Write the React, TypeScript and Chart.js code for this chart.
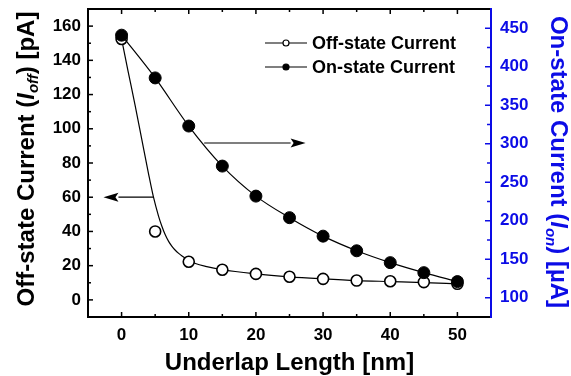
import React, { useEffect, useRef } from "react";
import { Chart, registerables } from "chart.js";

Chart.register(...registerables);

// ---- data ----
const underlap = [0, 5, 10, 15, 20, 25, 30, 35, 40, 45, 50];
const offCurrent = [152.5, 40, 22.3, 17.6, 15.2, 13.5, 12.3, 11.3, 10.9, 10.4, 9.4];
const onCurrent = [441, 385.5, 323, 271, 232, 204, 180, 161, 145.6, 132.6, 121];

// fitted curve through the off-state data
const offFitX = [0, 1, 2, 3, 4, 4.75, 5.5, 6, 6.5, 7, 7.5, 8, 8.5, 9, 10, 11, 12.5, 15, 20, 25, 30, 35, 40, 45, 50];
const offFitY = [152.5, 133, 114, 94, 74, 60, 49, 43, 38, 34.2, 31.3, 29, 27.2, 25.7, 23.2, 21.3, 19.6, 17.6, 15.2, 13.5, 12.3, 11.3, 10.7, 10.1, 9.4];

const xTickValues = [0, 10, 20, 30, 40, 50];
const yLeftTickValues = [0, 20, 40, 60, 80, 100, 120, 140, 160];
const yRightTickValues = [100, 150, 200, 250, 300, 350, 400, 450];

// annotation arrows (data coordinates)
const offArrowX = [4.75, -2.7];
const offArrowY = [60, 60];
const onArrowX = [12.3, 27.4];
const onArrowY = [301, 301];

const BLUE = "#0c0ce6";
const FONT = "'Liberation Sans', Arial, sans-serif";

const zeroPad = (s: any) => {
  s.paddingTop = 0;
  s.paddingBottom = 0;
  s.paddingLeft = 0;
  s.paddingRight = 0;
};

const decorPlugin = {
  id: "decor",
  afterDatasetsDraw(chart: any) {
    const ctx = chart.ctx;
    const { left, right, top, bottom } = chart.chartArea;
    const sx = chart.scales.x;
    const sy = chart.scales.y;
    const sy2 = chart.scales.y2;
    ctx.save();

    // arrows
    const drawArrow = (x1: number, y1: number, x2: number, y2: number) => {
      ctx.strokeStyle = "#000";
      ctx.fillStyle = "#000";
      ctx.lineWidth = 1.2;
      const dir = Math.sign(x2 - x1);
      const headLen = 15;
      ctx.beginPath();
      ctx.moveTo(x1, y1);
      ctx.lineTo(x2 - dir * headLen, y2);
      ctx.stroke();
      ctx.beginPath();
      ctx.moveTo(x2, y2);
      ctx.lineTo(x2 - dir * headLen, y2 - 4.5);
      ctx.lineTo(x2 - dir * (headLen - 3), y2);
      ctx.lineTo(x2 - dir * headLen, y2 + 4.5);
      ctx.closePath();
      ctx.fill();
    };
    drawArrow(
      sx.getPixelForValue(offArrowX[0]), sy.getPixelForValue(offArrowY[0]),
      sx.getPixelForValue(offArrowX[1]), sy.getPixelForValue(offArrowY[1])
    );
    drawArrow(
      sx.getPixelForValue(onArrowX[0]), sy2.getPixelForValue(onArrowY[0]),
      sx.getPixelForValue(onArrowX[1]), sy2.getPixelForValue(onArrowY[1])
    );

    // legend
    const legendItems = [
      { label: "Off-state Current", filled: false, y: 43 },
      { label: "On-state Current", filled: true, y: 67 },
    ];
    ctx.font = `bold 18px ${FONT}`;
    ctx.textBaseline = "middle";
    ctx.textAlign = "left";
    legendItems.forEach((it) => {
      ctx.strokeStyle = "#000";
      ctx.lineWidth = 1.2;
      ctx.beginPath();
      ctx.moveTo(265, it.y);
      ctx.lineTo(307, it.y);
      ctx.stroke();
      ctx.beginPath();
      ctx.arc(286, it.y, 3, 0, Math.PI * 2);
      ctx.fillStyle = it.filled ? "#000" : "#fff";
      ctx.fill();
      ctx.lineWidth = 1.2;
      ctx.stroke();
      ctx.fillStyle = "#000";
      ctx.fillText(it.label, 312, it.y + 1);
    });

    // frame
    ctx.lineWidth = 2;
    ctx.strokeStyle = "#000";
    ctx.beginPath();
    ctx.moveTo(right, top);
    ctx.lineTo(left, top);
    ctx.lineTo(left, bottom);
    ctx.lineTo(right, bottom);
    ctx.stroke();
    ctx.strokeStyle = BLUE;
    ctx.beginPath();
    ctx.moveTo(right, top - 1);
    ctx.lineTo(right, bottom + 1);
    ctx.stroke();

    // ticks
    ctx.lineWidth = 1.5;
    ctx.strokeStyle = "#000";
    for (let v = 0; v <= 50; v += 5) {
      const px = sx.getPixelForValue(v);
      const len = v % 10 === 0 ? 5 : 3;
      ctx.beginPath();
      ctx.moveTo(px, bottom);
      ctx.lineTo(px, bottom - len);
      ctx.moveTo(px, top);
      ctx.lineTo(px, top + len);
      ctx.stroke();
    }
    for (let v = 0; v <= 160; v += 10) {
      const py = sy.getPixelForValue(v);
      const len = v % 20 === 0 ? 5 : 3;
      ctx.beginPath();
      ctx.moveTo(left, py);
      ctx.lineTo(left + len, py);
      ctx.stroke();
    }
    ctx.strokeStyle = BLUE;
    for (let v = 100; v <= 450; v += 25) {
      const py = sy2.getPixelForValue(v);
      const len = v % 50 === 0 ? 6 : 4;
      ctx.beginPath();
      ctx.moveTo(right + 1, py);
      ctx.lineTo(right - len, py);
      ctx.stroke();
    }
    ctx.restore();
  },
  afterDraw(chart: any) {
    const ctx = chart.ctx;
    const { left, right } = chart.chartArea;
    ctx.save();
    ctx.textBaseline = "alphabetic";
    ctx.fillStyle = "#000";
    // x title
    ctx.font = `bold 24px ${FONT}`;
    ctx.textAlign = "center";
    ctx.fillText("Underlap Length [nm]", (left + right) / 2, 370);

    const drawRich = (
      segs: { t: string; italic?: boolean; sub?: boolean }[],
      cx: number,
      cy: number,
      angle: number,
      color: string
    ) => {
      const fontFor = (s: any) =>
        `${s.italic ? "italic " : ""}bold ${s.sub ? 15 : 24}px ${FONT}`;
      let total = 0;
      const widths = segs.map((s) => {
        ctx.font = fontFor(s);
        const w = ctx.measureText(s.t).width;
        total += w;
        return w;
      });
      ctx.save();
      ctx.translate(cx, cy);
      ctx.rotate(angle);
      ctx.fillStyle = color;
      ctx.textAlign = "left";
      let x = -total / 2;
      segs.forEach((s, i) => {
        ctx.font = fontFor(s);
        ctx.fillText(s.t, x, s.sub ? 13 : 8.5);
        x += widths[i];
      });
      ctx.restore();
    };

    drawRich(
      [
        { t: "Off-state Current (" },
        { t: "I", italic: true },
        { t: "off", italic: true, sub: true },
        { t: ") [pA]" },
      ],
      25,
      159,
      -Math.PI / 2,
      "#000"
    );
    drawRich(
      [
        { t: "On-state Current (" },
        { t: "I", italic: true },
        { t: "on", italic: true, sub: true },
        { t: ") [\u00b5A]" },
      ],
      559,
      162,
      Math.PI / 2,
      BLUE
    );
    ctx.restore();
  },
};

export default function App() {
  const canvasRef = useRef<HTMLCanvasElement | null>(null);

  useEffect(() => {
    document.body.style.margin = "0";
    const canvas = canvasRef.current;
    if (!canvas) return;
    const tickFont = { family: FONT, weight: "bold" as const, size: 17 };

    const chart = new Chart(canvas, {
      type: "line",
      data: {
        datasets: [
          {
            label: "On-state Current",
            data: underlap.map((x, i) => ({ x, y: onCurrent[i] })),
            yAxisID: "y2",
            borderColor: "#000",
            borderWidth: 1.2,
            backgroundColor: "#000",
            pointBackgroundColor: "#000",
            pointBorderColor: "#000",
            pointRadius: 6,
            pointBorderWidth: 1,
            cubicInterpolationMode: "monotone",
            order: 0,
          },
          {
            label: "Off-state Current",
            data: underlap.map((x, i) => ({ x, y: offCurrent[i] })),
            yAxisID: "y",
            showLine: false,
            pointBackgroundColor: "#fff",
            pointBorderColor: "#000",
            pointBorderWidth: 1.6,
            pointRadius: 5.5,
            order: 1,
          },
          {
            label: "Off-state fit",
            data: offFitX.map((x, i) => ({ x, y: offFitY[i] })),
            yAxisID: "y",
            borderColor: "#000",
            borderWidth: 1.2,
            pointRadius: 0,
            cubicInterpolationMode: "monotone",
            order: 2,
          },
        ],
      },
      options: {
        animation: false,
        responsive: false,
        maintainAspectRatio: false,
        layout: { padding: { top: 9, left: 0, right: 0, bottom: 0 } },
        plugins: {
          legend: { display: false },
          tooltip: { enabled: false },
          title: { display: false },
        },
        scales: {
          x: {
            type: "linear",
            position: "bottom",
            min: -5,
            max: 55,
            grid: { display: false, drawTicks: false },
            border: { display: false },
            afterBuildTicks: (s: any) => {
              s.ticks = xTickValues.map((v) => ({ value: v }));
            },
            afterFit: (s: any) => {
              s.height = 59;
              zeroPad(s);
            },
            ticks: {
              font: tickFont,
              color: "#000",
              padding: 8,
              maxRotation: 0,
              callback: (v: any) => String(v),
            },
          },
          y: {
            type: "linear",
            position: "left",
            min: -10,
            max: 170,
            grid: { display: false, drawTicks: false },
            border: { display: false },
            afterBuildTicks: (s: any) => {
              s.ticks = yLeftTickValues.map((v) => ({ value: v }));
            },
            afterFit: (s: any) => {
              s.width = 88;
              zeroPad(s);
            },
            ticks: {
              font: tickFont,
              color: "#000",
              padding: 7,
              callback: (v: any) => String(v),
            },
          },
          y2: {
            type: "linear",
            position: "right",
            min: 75,
            max: 475,
            grid: { display: false, drawTicks: false, drawOnChartArea: false },
            border: { display: false },
            afterBuildTicks: (s: any) => {
              s.ticks = yRightTickValues.map((v) => ({ value: v }));
            },
            afterFit: (s: any) => {
              s.width = 80;
              zeroPad(s);
            },
            ticks: {
              font: tickFont,
              color: BLUE,
              padding: 9,
              callback: (v: any) => String(v),
            },
          },
        },
      },
      plugins: [decorPlugin],
    });
    return () => chart.destroy();
  }, []);

  return (
    <div style={{ position: "absolute", left: 0, top: 0, width: 571, height: 376 }}>
      <canvas ref={canvasRef} width={571} height={376} />
    </div>
  );
}
